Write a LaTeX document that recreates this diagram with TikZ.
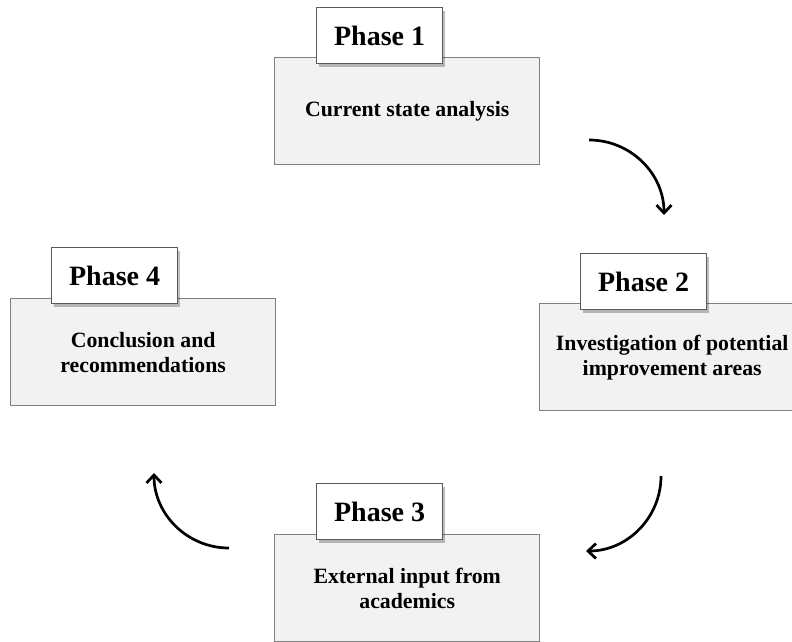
\documentclass[tikz,border=0pt]{standalone}
\usepackage{fontspec}
\setmainfont{Liberation Serif}
\usetikzlibrary{arrows.meta,shadows,positioning}

\definecolor{boxfill}{HTML}{F2F2F2}
\definecolor{boxline}{HTML}{808080}
\definecolor{tagline}{HTML}{5A5A5A}

\tikzset{
  phasebox/.style={draw=boxline, line width=1.4pt, fill=boxfill,
    minimum width=265pt, minimum height=107pt, inner sep=0pt,
    anchor=north west, align=center, font=\bfseries\fontsize{21.8}{25}\selectfont},
  phasetag/.style={draw=tagline, line width=1.2pt, fill=white,
    minimum width=126pt, minimum height=56pt, inner sep=0pt,
    anchor=north west, font=\bfseries\fontsize{28}{32}\selectfont,
    drop shadow={shadow xshift=2.5pt, shadow yshift=-3pt, opacity=0.25, fill=black}},
  flow/.style={line width=2.7pt, -{Straight Barb[length=8pt,width=15pt,line width=2.7pt]}}
}

\begin{document}
\begin{tikzpicture}[x=1pt,y=1pt]
  \useasboundingbox (0,0) rectangle (792,-641);
  \clip (0,0) rectangle (792,-641);

  % content boxes
  \node[phasebox] (b1) at (274,-57)  {Current state analysis};
  \node[phasebox] (b2) at (539,-303) {Investigation of potential\\improvement areas};
  \node[phasebox] (b3) at (274,-534) {External input from\\academics};
  \node[phasebox] (b4) at (10,-298)  {Conclusion and\\recommendations};

  % phase tags
  \node[phasetag] (t1) at (316,-7)   {Phase 1};
  \node[phasetag] (t2) at (580,-253) {Phase 2};
  \node[phasetag] (t3) at (316,-483) {Phase 3};
  \node[phasetag] (t4) at (51,-247)  {Phase 4};

  % curved arrows between the phases
  \coordinate (a1s) at (589,-140);
  \coordinate (a1e) at (664,-215);
  \coordinate (a2s) at (661,-476);
  \coordinate (a2e) at (586,-551);
  \coordinate (a3s) at (229,-548);
  \coordinate (a3e) at (154,-473);

  \draw[flow] (a1s) to[out=0,in=90] (a1e);
  \draw[flow] (a2s) to[out=-90,in=0] (a2e);
  \draw[flow] (a3s) to[out=180,in=-90] (a3e);
\end{tikzpicture}
\end{document}
